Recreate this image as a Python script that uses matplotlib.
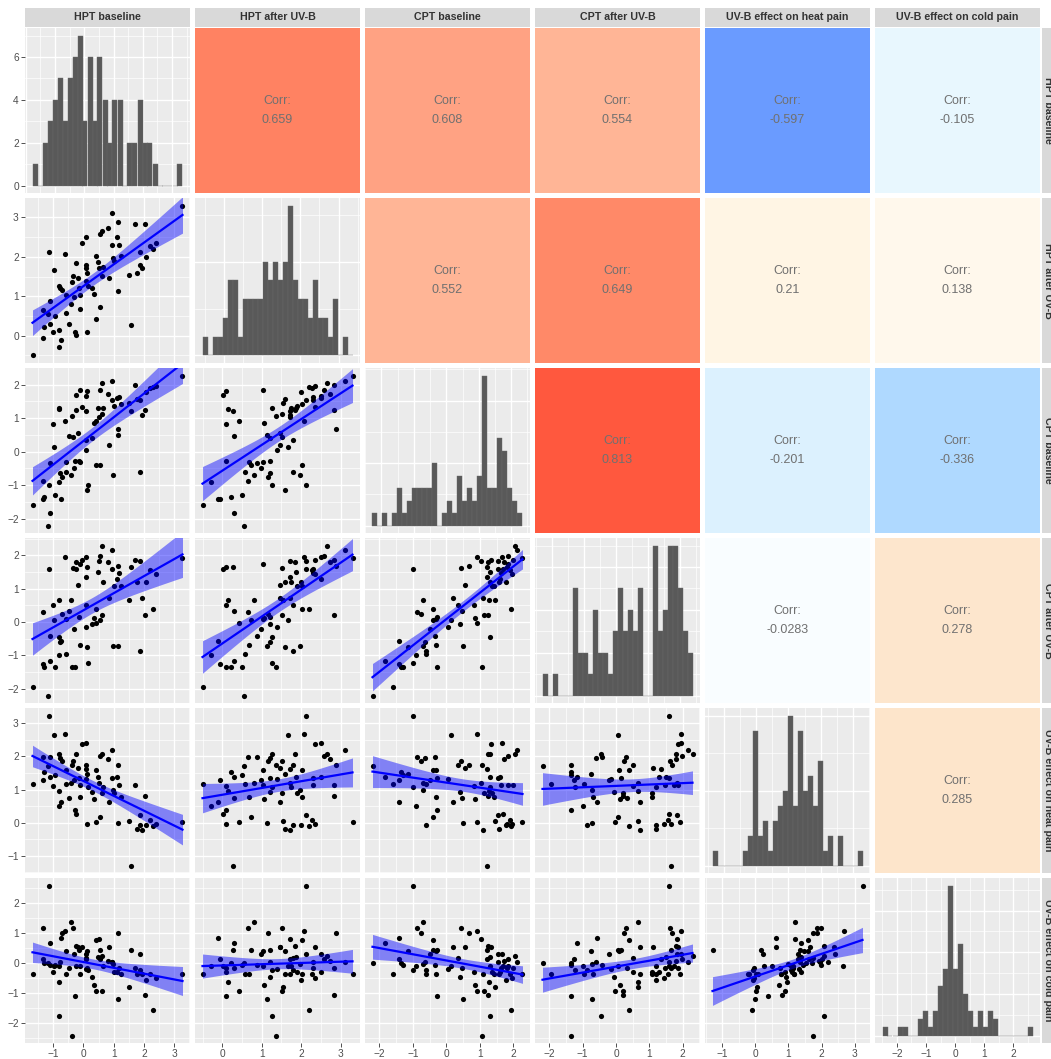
import numpy as np
import matplotlib
matplotlib.use("Agg")
import matplotlib.pyplot as plt
from matplotlib.colors import LinearSegmentedColormap
from matplotlib.ticker import MultipleLocator, MaxNLocator, AutoMinorLocator

plt.rcParams['font.family'] = ['Liberation Sans', 'DejaVu Sans']

var_names = ["HPT baseline", "HPT after UV-B", "CPT baseline", "CPT after UV-B",
             "UV-B effect on heat pain", "UV-B effect on cold pain"]

# one entry per subject
hpt_base = [-1.68, -1.33, -1.33, -1.29, -1.12, -1.09, -1.09, -1.18, -1.01, -0.97,
            -0.93, -0.82, -0.79, -0.73, -0.82, -0.76, -0.70, -0.60, -0.59, -0.57,
            -0.46, -0.40, -0.38, -0.34, -0.31, -0.24, -0.27, -0.24, -0.18, -0.16,
            -0.11, -0.10, -0.04, 0.10, 0.07, 0.10, 0.13, 0.07, 0.13, 0.16,
            0.27, 0.36, 0.40, 0.42, 0.49, 0.54, 0.52, 0.56, 0.60, 0.62,
            0.66, 0.80, 0.84, 0.93, 0.93, 0.97, 1.02, 1.10, 1.13, 1.16,
            1.13, 1.24, 1.49, 1.56, 1.71, 1.76, 1.86, 1.88, 1.93, 2.04,
            2.07, 2.19, 2.29, 2.38, 3.27]
hpt_after = [-0.50, -0.05, 0.65, 0.23, 2.11, 0.29, 0.89, 0.54, 0.10, 1.66,
             0.50, 0.14, -0.28, -0.10, 1.25, 1.20, 1.16, 2.06, 0.58, 1.03,
             0.29, 0.81, 1.35, 1.51, 0.98, 1.84, 0.10, 0.03, 1.47, 1.20,
             1.03, 0.67, 2.34, 2.49, 1.80, 1.71, 1.60, 1.38, 0.10, 1.25,
             1.20, 1.07, 0.43, 2.02, 1.87, 0.72, 1.71, 2.58, 2.66, 1.51,
             1.73, 2.73, 1.47, 3.11, 2.29, 1.96, 1.90, 2.49, 2.88, 2.29,
             1.13, 2.02, 1.53, 0.27, 2.84, 1.58, 1.80, 2.12, 1.71, 2.84,
             2.00, 2.27, 2.20, 2.34, 3.30]
heat_effect = [1.18, 1.28, 1.98, 1.52, 3.23, 1.38, 1.98, 1.72, 1.11, 2.63,
               1.43, 0.96, 0.51, 0.63, 2.07, 1.96, 1.86, 2.66, 1.17, 1.60,
               0.75, 1.21, 1.73, 1.85, 1.29, 2.08, 0.37, 0.27, 1.65, 1.36,
               1.14, 0.77, 2.38, 2.39, 1.73, 1.61, 1.47, 1.31, -0.03, 1.09,
               0.93, 0.71, 0.03, 1.60, 1.38, 0.18, 1.19, 2.02, 2.06, 0.89,
               1.07, 1.93, 0.63, 2.18, 1.36, 0.99, 0.88, 1.39, 1.75, 1.13,
               0.00, 0.78, 0.04, -1.29, 1.13, -0.18, -0.06, 0.24, -0.22, 0.80,
               -0.07, 0.08, -0.09, -0.04, 0.03]
cpt_base = [-1.60, -1.40, -0.87, -1.35, -0.98, -1.82, -0.35, -2.20, 0.83, 0.15,
            -1.30, 1.28, -0.90, -1.40, 1.30, -0.65, -0.75, 0.90, -0.60, -0.30,
            0.48, -0.70, 1.07, 0.45, -0.50, 1.23, -0.27, 1.70, 0.57, -0.27,
            1.85, -0.32, 1.33, 1.65, 0.35, 1.20, -1.15, 0.05, 1.80, -1.00,
            0.40, 0.85, 0.90, -0.40, 1.30, -0.40, 1.03, 1.83, 2.05, 1.13,
            1.30, 1.73, 0.20, 2.10, 1.55, -0.70, 1.37, 1.60, 0.67, 1.63,
            0.50, 1.43, 1.45, 1.20, 2.00, 1.57, -0.62, 1.53, 1.10, 1.25,
            1.77, 1.90, 1.93, 1.95, 2.27]
cpt_after = [-1.96, -1.26, 0.30, -1.36, 1.60, -1.16, -0.41, -2.21, 0.52, 0.05,
             -1.36, 0.65, -0.99, -0.56, -0.46, -0.61, 0.25, 1.95, -0.96, 0.10,
             0.32, 0.65, -1.34, 1.62, -0.21, 1.80, -1.36, 1.60, 1.10, 0.15,
             1.75, -0.69, 1.85, 1.95, 0.52, 1.35, -0.76, -0.16, 1.65, -1.24,
             -0.06, 0.12, -0.03, 0.38, 1.50, 0.05, 1.82, 1.98, 2.30, 0.20,
             1.20, 1.80, 0.72, 2.15, 1.60, -0.73, 1.08, 1.30, 1.68, 1.48,
             -0.71, 1.08, 0.65, 1.65, 1.85, 1.20, -0.86, 1.82, 0.72, 0.20,
             1.20, 1.55, 0.38, 1.45, 1.92]
cold_effect = [-0.36, 0.14, 1.17, -0.01, 2.58, 0.66, -0.06, -0.01, -0.31, -0.10,
               -0.06, -0.63, -0.09, 0.84, -1.76, 0.04, 1.00, 1.05, -0.36, 0.40,
               -0.16, 1.35, -2.41, 1.17, 0.29, 0.57, -1.09, -0.10, 0.53, 0.42,
               -0.10, -0.37, 0.52, 0.30, 0.17, 0.15, 0.39, -0.21, -0.15, -0.24,
               -0.46, -0.73, -0.93, 0.78, 0.20, 0.45, 0.79, 0.15, 0.25, -0.93,
               -0.10, 0.07, 0.52, 0.05, 0.05, -0.03, -0.29, -0.30, 1.01, -0.15,
               -1.21, -0.35, -0.80, 0.45, -0.15, -0.37, -0.24, 0.29, -0.38, -1.05,
               -0.57, -0.35, -1.55, -0.50, -0.35]

# histogram counts on the diagonal (30 bins each)
hist_hpt_base = [1, 0, 2, 3, 4, 5, 3, 5, 6, 7, 3, 6, 3, 6, 4,
                 2, 4, 4, 0, 2, 2, 4, 2, 2, 1, 0, 0, 0, 0, 1]
hist_hpt_after = [1, 0, 1, 1, 2, 4, 4, 1, 3, 3, 3, 3, 5, 4, 5,
                  4, 5, 8, 4, 3, 3, 2, 4, 2, 2, 1, 3, 0, 1, 0]
hist_cpt_base = [1, 0, 1, 0, 1, 3, 1, 2, 3, 3, 3, 3, 5, 0, 1,
                 2, 1, 4, 2, 3, 2, 4, 12, 3, 3, 7, 6, 3, 2, 1]
hist_cpt_after = [1, 0, 1, 0, 0, 0, 5, 2, 2, 1, 4, 2, 2, 1, 3,
                  5, 3, 4, 3, 5, 0, 0, 7, 3, 4, 7, 7, 5, 3, 2]
hist_heat = [1, 0, 0, 0, 0, 0, 1, 2, 9, 2, 3, 1, 3, 4, 5,
             10, 4, 9, 5, 6, 4, 7, 1, 2, 0, 2, 0, 0, 0, 1]
hist_cold = [1, 0, 0, 1, 1, 0, 0, 2, 3, 1, 3, 6, 8, 18, 8,
             11, 5, 3, 1, 3, 1, 3, 2, 0, 0, 0, 0, 0, 0, 1]

# correlations, upper triangle, row by row
corr_values = [0.659, 0.608, 0.554, -0.597, -0.105,
               0.552, 0.649, 0.21, 0.138,
               0.813, -0.201, -0.336,
               -0.0283, 0.278,
               0.285]

variables = [hpt_base, hpt_after, cpt_base, cpt_after, heat_effect, cold_effect]
hist_counts = [hist_hpt_base, hist_hpt_after, hist_cpt_base,
               hist_cpt_after, hist_heat, hist_cold]

corr_cmap = LinearSegmentedColormap.from_list("corr", [
    (0.000, "#1E50FF"), (0.2015, "#6B9CFF"), (0.332, "#B0DAFF"),
    (0.400, "#DCF1FE"), (0.4475, "#E8F7FE"), (0.500, "#FFFFFF"),
    (0.569, "#FFF8EC"), (0.605, "#FFF5E4"), (0.640, "#FDE6CC"),
    (0.776, "#FFB596"), (0.804, "#FFA283"), (0.8245, "#FF9170"),
    (0.8295, "#FF8363"), (0.9065, "#FF5A40"), (1.000, "#FF2000")])

W, H = 1051, 1059
PANEL, GAP, LEFT, TOP = 165, 5, 25, 28
T_CRIT = 1.99
PANEL_BG = "#EBEBEB"

fig = plt.figure(figsize=(W / 100, H / 100), dpi=100)


def px_axes(x, y, w, h):
    return fig.add_axes([x / W, 1 - (y + h) / H, w / W, h / H])


def padded(lo, hi, frac=0.05):
    span = hi - lo
    return lo - frac * span, hi + frac * span


def style_grid(ax):
    ax.set_facecolor(PANEL_BG)
    for s in ax.spines.values():
        s.set_visible(False)
    ax.grid(True, which="major", color="white", lw=1.0)
    ax.grid(True, which="minor", color="white", lw=0.5)
    ax.set_axisbelow(True)
    ax.tick_params(which="both", length=0, labelleft=False, labelbottom=False)


def lm_band(x, y, n=80):
    x = np.asarray(x, float)
    y = np.asarray(y, float)
    b, a = np.polyfit(x, y, 1)
    xs = np.linspace(x.min(), x.max(), n)
    resid = y - (a + b * x)
    s = np.sqrt((resid ** 2).sum() / (len(x) - 2))
    sxx = ((x - x.mean()) ** 2).sum()
    se = s * np.sqrt(1 / len(x) + (xs - x.mean()) ** 2 / sxx)
    fit = a + b * xs
    return xs, fit, fit - T_CRIT * se, fit + T_CRIT * se


k = 0
for i in range(6):
    for j in range(6):
        ax = px_axes(LEFT + j * (PANEL + GAP), TOP + i * (PANEL + GAP), PANEL, PANEL)
        xv = np.asarray(variables[j])
        if i == j:
            # histogram of the variable
            counts = hist_counts[i]
            lo, hi = xv.min(), xv.max()
            w = (hi - lo) / 29
            edges = lo - w / 2 + w * np.arange(31)
            style_grid(ax)
            ax.bar(edges[:-1], counts, width=w, align="edge",
                   color="#595959", edgecolor="#6a6a6a", lw=0.3)
            ax.set_xlim(*padded(edges[0], edges[-1]))
            ax.set_ylim(*padded(0, max(counts)))
            ax.xaxis.set_major_locator(MultipleLocator(1))
            ax.xaxis.set_minor_locator(MultipleLocator(0.5))
            ax.yaxis.set_major_locator(MaxNLocator(nbins=4, integer=True, steps=[1, 2, 5, 10]))
            ax.yaxis.set_minor_locator(AutoMinorLocator(2))
        elif i > j:
            yv = np.asarray(variables[i])
            style_grid(ax)
            ax.scatter(xv, yv, s=14, color="black", lw=0, zorder=2)
            xs, fit, lo_b, hi_b = lm_band(xv, yv)
            ax.fill_between(xs, lo_b, hi_b, color="blue", alpha=0.45, lw=0, zorder=3)
            ax.plot(xs, fit, color="blue", lw=1.6, zorder=4)
            ax.set_xlim(*padded(xv.min(), xv.max()))
            ax.set_ylim(*padded(yv.min(), yv.max()))
            for axis in (ax.xaxis, ax.yaxis):
                axis.set_major_locator(MultipleLocator(1))
                axis.set_minor_locator(MultipleLocator(0.5))
        else:
            r = corr_values[k]
            k += 1
            ax.set_facecolor(corr_cmap((r + 1) / 2))
            for s in ax.spines.values():
                s.set_visible(False)
            ax.set_xticks([])
            ax.set_yticks([])
            ax.text(0.5, 0.5, "Corr:\n%.3g" % r, transform=ax.transAxes,
                    ha="center", va="center", fontsize=9, color="#707070",
                    linespacing=1.7)
        if j == 0:
            ax.tick_params(axis="y", which="major", length=3, width=0.6,
                           color="#333333", labelleft=True, labelsize=7.3,
                           labelcolor="#4D4D4D", pad=1.5)
        if i == 5:
            ax.tick_params(axis="x", which="major", length=3, width=0.6,
                           color="#333333", labelbottom=True, labelsize=7.3,
                           labelcolor="#4D4D4D", pad=1.5)

# facet strips
for j, name in enumerate(var_names):
    sx = px_axes(LEFT + j * (PANEL + GAP), 8, PANEL, 19)
    sx.set_facecolor("#D9D9D9")
    sx.set_xticks([])
    sx.set_yticks([])
    for s in sx.spines.values():
        s.set_visible(False)
    sx.text(0.5, 0.5, name, transform=sx.transAxes, ha="center", va="center",
            fontsize=7.7, fontweight="bold", color="#333333")

for i, name in enumerate(var_names):
    sy = px_axes(1042, TOP + i * (PANEL + GAP), 20, PANEL)
    sy.set_facecolor("#D9D9D9")
    sy.set_xticks([])
    sy.set_yticks([])
    for s in sy.spines.values():
        s.set_visible(False)
    sy.text(0.3, 0.5, name, transform=sy.transAxes, ha="center", va="center",
            rotation=-90, fontsize=7.7, fontweight="bold", color="#333333")

fig.savefig("out.png", dpi=100)
